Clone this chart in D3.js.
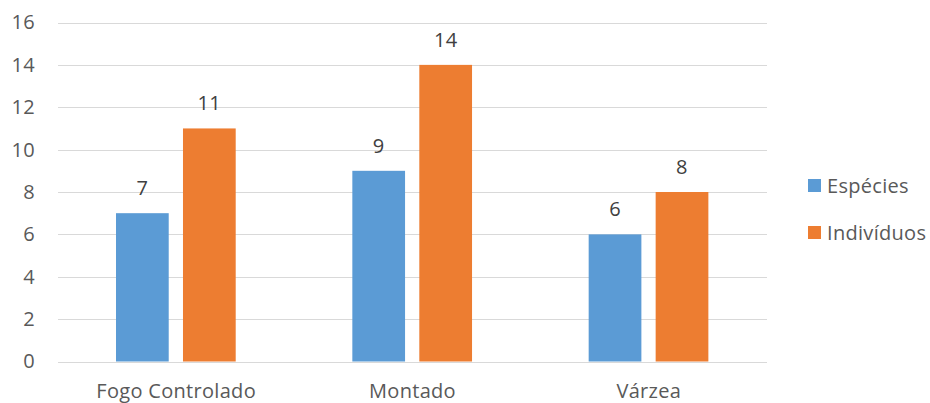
<!DOCTYPE html>
<html>
<head>
<meta charset="utf-8">
<script src="https://cdn.jsdelivr.net/npm/d3@7"></script>
<style>
  html, body { margin: 0; padding: 0; background: #fff; }
  svg { display: block; font-family: "Open Sans", "Noto Sans", sans-serif; }
  svg text { letter-spacing: 0.3px; }
</style>
</head>
<body>
<svg id="chart" width="930" height="403"></svg>
<script>
// Number of species and individuals recorded per habitat
const categories = ["Fogo Controlado", "Montado", "Várzea"];
const seriesNames = ["Espécies", "Indivíduos"];
const especies = [7, 9, 6];
const individuos = [11, 14, 8];
const yTicks = [0, 2, 4, 6, 8, 10, 12, 14, 16];
const colors = ["#5b9bd5", "#ed7d31"];

const seriesValues = [especies, individuos];
const FONT = "'Open Sans', 'Noto Sans', sans-serif";
const SIZE = "20px";

const svg = d3.select("#chart");
const plot = { left: 58, right: 767, top: 22.5, bottom: 361.5 };

const y = d3.scaleLinear().domain([0, 16]).range([plot.bottom, plot.top]);
const x0 = d3.scaleBand().domain(categories).range([plot.left, plot.right]).padding(0);
const x1 = d3.scaleBand().domain(seriesNames)
  .range([58, 58 + 119.7]).paddingInner(0.213).paddingOuter(0);

// Horizontal gridlines
svg.append("g").selectAll("line").data(yTicks).join("line")
  .attr("x1", plot.left).attr("x2", plot.right)
  .attr("y1", d => Math.round(y(d)) + 0.5).attr("y2", d => Math.round(y(d)) + 0.5)
  .attr("stroke", "#d9d9d9").attr("stroke-width", 1);

// Y axis labels
const yAxis = d3.axisLeft(y).tickValues(yTicks).tickSize(0).tickPadding(0);
const yg = svg.append("g").attr("transform", "translate(35,0)").call(yAxis);
yg.select(".domain").remove();
yg.selectAll("text").attr("fill", "#595959").style("font-size", SIZE)
  .style("font-family", FONT);

// X axis labels
const xAxis = d3.axisBottom(x0).tickSize(0).tickPadding(0);
const xg = svg.append("g").call(xAxis);
xg.select(".domain").remove();
xg.selectAll("text").attr("fill", "#595959").style("font-size", SIZE)
  .style("font-family", FONT).attr("y", 398).attr("dy", null);

// Bars
const groups = svg.append("g").selectAll("g").data(categories).join("g")
  .attr("transform", d => `translate(${x0(d)},0)`);

groups.selectAll("rect")
  .data((c, i) => seriesNames.map((s, k) => ({ s, k, v: seriesValues[k][i] })))
  .join("rect")
  .attr("x", d => x1(d.s))
  .attr("width", x1.bandwidth())
  .attr("y", d => y(d.v))
  .attr("height", d => y(0) - y(d.v))
  .attr("fill", d => colors[d.k]);

// Value labels
groups.selectAll("text.val")
  .data((c, i) => seriesNames.map((s, k) => ({ s, k, v: seriesValues[k][i] })))
  .join("text")
  .attr("class", "val")
  .attr("x", d => x1(d.s) + x1.bandwidth() / 2)
  .attr("y", d => y(d.v) - 18)
  .attr("text-anchor", "middle")
  .attr("fill", "#404040")
  .style("font-size", SIZE)
  .text(d => d.v);

// Legend
const legend = svg.append("g").selectAll("g").data(seriesNames).join("g")
  .attr("transform", (d, i) => `translate(808,${179 + i * 47})`);
legend.append("rect").attr("width", 13).attr("height", 13)
  .attr("fill", (d, i) => colors[i]);
legend.append("text").attr("x", 19).attr("y", 13.5)
  .attr("fill", "#595959").style("font-size", SIZE).text(d => d);
</script>
</body>
</html>
